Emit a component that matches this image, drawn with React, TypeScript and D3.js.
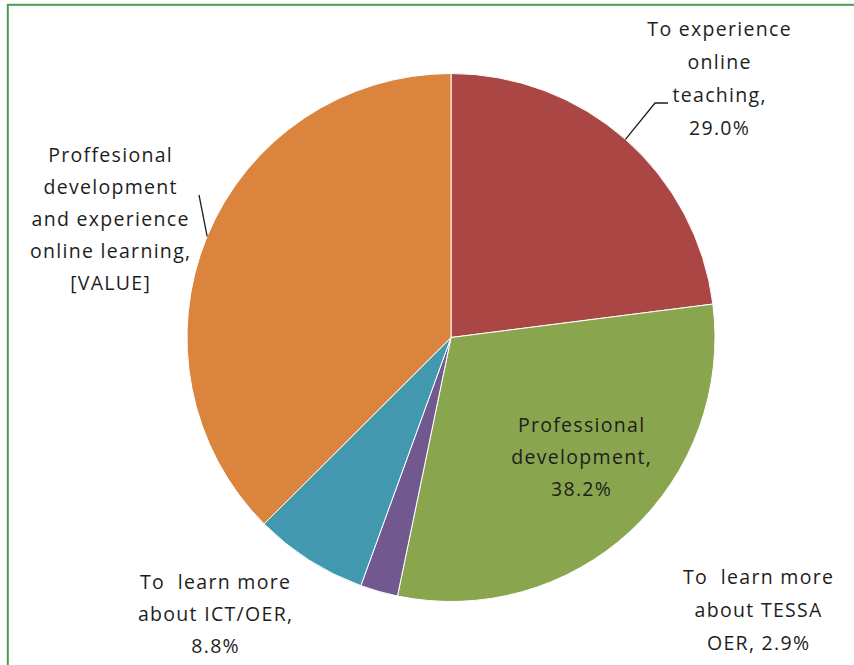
import React from "react";
import * as d3 from "d3";

const categories = [
  "To experience online teaching",
  "Professional development",
  "To learn more about TESSA OER",
  "To learn more about ICT/OER",
  "Proffesional development and experience online learning",
];
const values = [29.0, 38.2, 2.9, 8.8, 47.3];
const colors = ["#AA4643", "#89A54E", "#71588F", "#4198AF", "#DB843D"];
const labelLines = [
  ["To experience", "online", "teaching,", "29.0%"],
  ["Professional", "development,", "38.2%"],
  ["To  learn more", "about TESSA", "OER, 2.9%"],
  ["To  learn more", "about ICT/OER,", "8.8%"],
  ["Proffesional", "development", "and experience", "online learning,", "[VALUE]"],
];

const W = 854;
const H = 665;
const cx = 451;
const cy = 337.5;
const R = 264;
const LS = 1.3;

// label layout: center x, first baseline y, line spacing, leader elbow
const labelPos = [
  { x: 719, y: 36, dy: 33, leader: [[655, 103], [668, 103]] },
  { x: 581, y: 432, dy: 32, leader: null },
  { x: 758, y: 584, dy: 33, leader: null },
  { x: 215, y: 589, dy: 32, leader: null },
  { x: 110, y: 162, dy: 32, leader: [[199, 195]] },
];

export default function App() {
  const pie = d3
    .pie<number>()
    .sort(null)
    .value((d) => d)
    .startAngle(0)
    .endAngle(2 * Math.PI);
  const arcs = pie(values);
  const arc = d3.arc<d3.PieArcDatum<number>>().innerRadius(0).outerRadius(R);

  return (
    <svg
      width={W}
      height={H}
      style={{ position: "absolute", left: 0, top: 0, background: "#fff" }}
      fontFamily="'Open Sans', sans-serif"
    >
      <rect x={0} y={0} width={W} height={H} fill="#fff" />
      <rect x={7.8} y={4.8} width={W + 50} height={H + 50} fill="none" stroke="#4c9c50" strokeWidth={2} />
      <g transform={`translate(${cx},${cy})`}>
        {arcs.map((a, i) => (
          <path key={categories[i]} d={arc(a) || ""} fill={colors[i]} stroke="#fff" strokeWidth={1} />
        ))}
      </g>
      {arcs.map((a, i) => {
        const lp = labelPos[i];
        if (!lp.leader) return null;
        const mid = (a.startAngle + a.endAngle) / 2;
        const ex = cx + R * Math.sin(mid);
        const ey = cy - R * Math.cos(mid);
        const pts = [[ex, ey], ...lp.leader];
        return (
          <polyline
            key={"l" + i}
            points={pts.map((p) => p.join(",")).join(" ")}
            fill="none"
            stroke="#1e1e1e"
            strokeWidth={1.3}
          />
        );
      })}
      {labelLines.map((lines, i) => {
        const lp = labelPos[i];
        return (
          <text
            key={"t" + i}
            textAnchor="middle"
            fontSize={19.5}
            fill="#1e1e1e"
            letterSpacing={LS}
            style={{ whiteSpace: "pre" }}
          >
            {lines.map((ln, j) => (
              <tspan key={j} x={lp.x + LS / 2} y={lp.y + j * lp.dy}>
                {ln}
              </tspan>
            ))}
          </text>
        );
      })}
    </svg>
  );
}
